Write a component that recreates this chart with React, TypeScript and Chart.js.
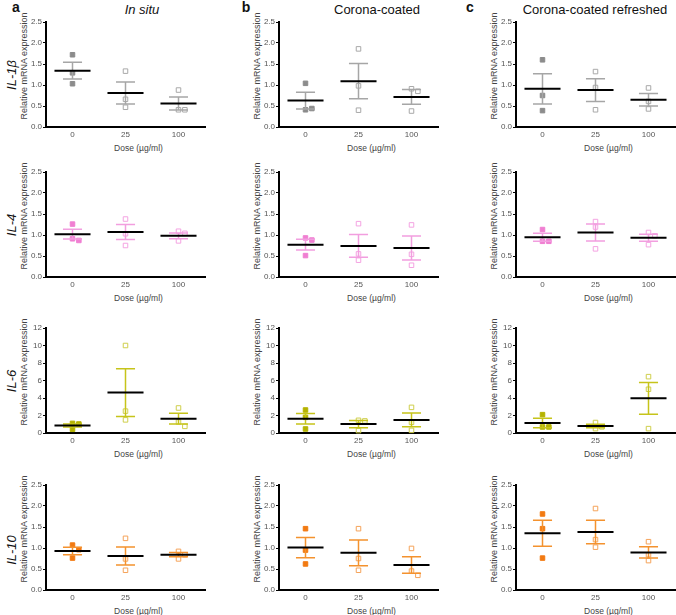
import React, { useEffect, useRef } from 'react';
import { Chart, registerables } from 'chart.js';

Chart.register(...registerables);

// ---------- data ----------
const doseLabels = ['0', '25', '100'];
const geneNames = ['IL-1β', 'IL-4', 'IL-6', 'IL-10'];
const conditionTitles = ['In situ', 'Corona-coated', 'Corona-coated refreshed'];
const panelLetters = ['a', 'b', 'c'];
const yAxisMax = [2.5, 2.5, 12, 2.5];
const yAxisStep = [0.5, 0.5, 2, 0.5];
const xAxisTitle = 'Dose (µg/ml)';
const yAxisTitle = 'Relative mRNA expression';

// IL-1β
const il1bInSituPoints = [[1.72, 1.29, 1.03], [1.33, 0.66, 0.47], [0.88, 0.41, 0.41]];
const il1bInSituMean = [1.34, 0.81, 0.56];
const il1bInSituSem = [0.2, 0.26, 0.155];
const il1bCoatedPoints = [[1.04, 0.41, 0.44], [1.86, 0.98, 0.4], [0.91, 0.85, 0.38]];
const il1bCoatedMean = [0.63, 1.09, 0.715];
const il1bCoatedSem = [0.2, 0.42, 0.175];
const il1bRefreshedPoints = [[1.6, 0.75, 0.39], [1.32, 0.94, 0.41], [0.93, 0.61, 0.43]];
const il1bRefreshedMean = [0.91, 0.88, 0.65];
const il1bRefreshedSem = [0.36, 0.27, 0.15];
// IL-4
const il4InSituPoints = [[1.26, 0.91, 0.87], [1.38, 1.03, 0.75], [1.09, 1.04, 0.86]];
const il4InSituMean = [1.02, 1.07, 0.98];
const il4InSituSem = [0.115, 0.18, 0.07];
const il4CoatedPoints = [[0.93, 0.88, 0.51], [1.27, 0.55, 0.4], [1.24, 0.54, 0.28]];
const il4CoatedMean = [0.77, 0.74, 0.69];
const il4CoatedSem = [0.13, 0.27, 0.285];
const il4RefreshedPoints = [[1.13, 0.85, 0.85], [1.32, 1.19, 0.67], [1.06, 0.98, 0.77]];
const il4RefreshedMean = [0.945, 1.06, 0.935];
const il4RefreshedSem = [0.095, 0.2, 0.085];
// IL-6
const il6InSituPoints = [[1.1, 1.03, 0.42], [10.0, 2.5, 1.5], [2.86, 1.26, 0.76]];
const il6InSituMean = [0.86, 4.62, 1.64];
const il6InSituSem = [0.16, 2.72, 0.625];
const il6CoatedPoints = [[2.63, 1.79, 0.46], [1.45, 1.38, 0.27], [2.93, 1.22, 0.3]];
const il6CoatedMean = [1.62, 1.02, 1.5];
const il6CoatedSem = [0.6, 0.42, 0.78];
const il6RefreshedPoints = [[2.1, 0.69, 0.69], [1.2, 0.7, 0.5], [6.44, 5.0, 0.5]];
const il6RefreshedMean = [1.14, 0.8, 3.96];
const il6RefreshedSem = [0.535, 0.19, 1.81];
// IL-10
const il10InSituPoints = [[1.07, 0.96, 0.76], [1.23, 0.74, 0.47], [0.92, 0.84, 0.74]];
const il10InSituMean = [0.93, 0.81, 0.84];
const il10InSituSem = [0.09, 0.215, 0.05];
const il10CoatedPoints = [[1.46, 0.95, 0.62], [1.46, 0.75, 0.47], [0.99, 0.45, 0.35]];
const il10CoatedMean = [1.01, 0.885, 0.595];
const il10CoatedSem = [0.24, 0.305, 0.195];
const il10RefreshedPoints = [[1.81, 1.46, 0.76], [1.94, 1.2, 1.02], [1.15, 0.84, 0.7]];
const il10RefreshedMean = [1.35, 1.38, 0.895];
const il10RefreshedSem = [0.31, 0.28, 0.135];

type PanelData = { points: number[][]; mean: number[]; sem: number[] };

const panels: PanelData[][] = [
  [
    { points: il1bInSituPoints, mean: il1bInSituMean, sem: il1bInSituSem },
    { points: il1bCoatedPoints, mean: il1bCoatedMean, sem: il1bCoatedSem },
    { points: il1bRefreshedPoints, mean: il1bRefreshedMean, sem: il1bRefreshedSem },
  ],
  [
    { points: il4InSituPoints, mean: il4InSituMean, sem: il4InSituSem },
    { points: il4CoatedPoints, mean: il4CoatedMean, sem: il4CoatedSem },
    { points: il4RefreshedPoints, mean: il4RefreshedMean, sem: il4RefreshedSem },
  ],
  [
    { points: il6InSituPoints, mean: il6InSituMean, sem: il6InSituSem },
    { points: il6CoatedPoints, mean: il6CoatedMean, sem: il6CoatedSem },
    { points: il6RefreshedPoints, mean: il6RefreshedMean, sem: il6RefreshedSem },
  ],
  [
    { points: il10InSituPoints, mean: il10InSituMean, sem: il10InSituSem },
    { points: il10CoatedPoints, mean: il10CoatedMean, sem: il10CoatedSem },
    { points: il10RefreshedPoints, mean: il10RefreshedMean, sem: il10RefreshedSem },
  ],
];

// ---------- styles / layout ----------
const FONT = '"Liberation Sans", Arial, Helvetica, sans-serif';
const GENE_FILL = ['#8c8c8c', '#f07fd2', '#b5b300', '#f27a12'];
const GENE_OPEN = ['#a9a9a9', '#f4a3e2', '#cfcf4c', '#f5a35a'];
const GENE_BAR = ['#a6a6a6', '#f29edf', '#c6c41a', '#f4922e'];

const COL_AXIS_X = [46, 279, 516];
const COL_AXIS_END = [205, 438, 675];
const ROW_TOP = [22, 172, 328, 485];
const PLOT_H = 105;
const Y_W = 17;
const X_H = 14;
const PAD_T = 6;
const PAD_R = 1;

function jitterPoints(groups: number[][], yMax: number) {
  const thr = yMax * 0.045;
  const out: { x: number; y: number; g: number }[] = [];
  groups.forEach((vals, g) => {
    const placed: { y: number; dx: number }[] = [];
    vals.forEach((v) => {
      const cands = [0, 0.12, -0.12, 0.24, -0.24];
      const dx =
        cands.find((c) => !placed.some((p) => Math.abs(p.y - v) < thr && Math.abs(p.dx - c) < 0.1)) ?? 0;
      placed.push({ y: v, dx });
      out.push({ x: g + dx, y: v, g });
    });
  });
  return out;
}

function Panel({ gene, col }: { gene: number; col: number }) {
  const ref = useRef<HTMLCanvasElement>(null);
  const axisX = COL_AXIS_X[col];
  const axisEnd = COL_AXIS_END[col];
  const width = Y_W + (axisEnd - axisX) + PAD_R;
  const height = PAD_T + PLOT_H + X_H;
  const left = axisX - Y_W;
  const top = ROW_TOP[gene] - PAD_T;

  useEffect(() => {
    const data = panels[gene][col];
    const yMax = yAxisMax[gene];
    const pts = jitterPoints(data.points, yMax);
    const meanLine: any[] = [];
    const semLine: any[] = [];
    data.mean.forEach((m, i) => {
      const s = data.sem[i];
      meanLine.push({ x: i - 0.34, y: m }, { x: i + 0.34, y: m }, { x: i + 0.5, y: null });
      semLine.push(
        { x: i, y: m - s },
        { x: i, y: m + s },
        { x: i, y: null },
        { x: i - 0.18, y: m + s },
        { x: i + 0.18, y: m + s },
        { x: i, y: null },
        { x: i - 0.18, y: m - s },
        { x: i + 0.18, y: m - s },
        { x: i, y: null }
      );
    });
    const tickFont = { family: FONT, size: 8 };
    const chart = new Chart(ref.current as HTMLCanvasElement, {
      type: 'line',
      data: {
        datasets: [
          {
            data: meanLine,
            borderColor: '#000',
            borderWidth: 2,
            pointRadius: 0,
            fill: false,
            clip: false,
            order: 0,
          },
          {
            data: semLine,
            borderColor: GENE_BAR[gene],
            borderWidth: 1.5,
            pointRadius: 0,
            fill: false,
            clip: false,
            order: 1,
          },
          {
            data: pts,
            showLine: false,
            pointStyle: 'rect',
            pointRadius: 3.2,
            pointBackgroundColor: pts.map((p) => (p.g === 0 ? GENE_FILL[gene] : 'rgba(255,255,255,0)')),
            pointBorderColor: pts.map((p) => (p.g === 0 ? GENE_FILL[gene] : GENE_OPEN[gene])),
            pointBorderWidth: 1,
            clip: false,
            order: 2,
          },
        ] as any,
      },
      options: {
        responsive: false,
        animation: false,
        events: [],
        layout: { padding: { top: PAD_T, right: PAD_R, left: 0, bottom: 0 }, autoPadding: false },
        plugins: { legend: { display: false }, tooltip: { enabled: false }, title: { display: false } },
        scales: {
          x: {
            type: 'linear',
            min: -0.5,
            max: 2.5,
            afterBuildTicks: (s: any) => {
              s.ticks = doseLabels.map((_, i) => ({ value: i }));
            },
            ticks: {
              autoSkip: false,
              maxRotation: 0,
              padding: 3,
              font: tickFont,
              color: '#555',
              callback: (v: any) => doseLabels[Math.round(Number(v))],
            },
            grid: { display: false, drawTicks: false },
            border: { display: true, color: '#000', width: 2 },
            afterFit: (s: any) => {
              s.height = X_H;
            },
          },
          y: {
            type: 'linear',
            min: 0,
            max: yMax,
            ticks: {
              stepSize: yAxisStep[gene],
              autoSkip: false,
              padding: 1,
              font: tickFont,
              color: '#555',
              callback: (v: any) => (yMax > 5 ? String(v) : Number(v).toFixed(1)),
            },
            grid: { drawOnChartArea: false, drawTicks: true, tickLength: 3, color: '#000', lineWidth: 1 },
            border: { display: true, color: '#000', width: 2 },
            afterFit: (s: any) => {
              s.width = Y_W;
            },
          },
        },
      } as any,
    });
    return () => chart.destroy();
  }, [gene, col]);

  return (
    <canvas
      ref={ref}
      width={width}
      height={height}
      style={{ position: 'absolute', left, top, width, height }}
    />
  );
}

function Label({
  x,
  y,
  text,
  size,
  rotate = false,
  italic = false,
  bold = false,
  color = '#111',
}: {
  x: number;
  y: number;
  text: string;
  size: number;
  rotate?: boolean;
  italic?: boolean;
  bold?: boolean;
  color?: string;
}) {
  return (
    <div
      style={{
        position: 'absolute',
        left: x,
        top: y,
        transform: `translate(-50%, -50%)${rotate ? ' rotate(-90deg)' : ''}`,
        fontSize: size,
        lineHeight: 1,
        whiteSpace: 'nowrap',
        fontStyle: italic ? 'italic' : 'normal',
        fontWeight: bold ? 'bold' : 'normal',
        color,
        fontFamily: FONT,
      }}
    >
      {text}
    </div>
  );
}

export default function App() {
  useEffect(() => {
    document.body.style.margin = '0';
  }, []);
  const letterX = [16, 246, 470];
  const titleX = [142, 377, 595];
  const geneY = [75, 225, 381, 550];
  const labels: React.ReactNode[] = [];
  const charts: React.ReactNode[] = [];
  geneNames.forEach((g, gi) => {
    conditionTitles.forEach((_, ci) => {
      charts.push(<Panel key={`p${gi}-${ci}`} gene={gi} col={ci} />);
      const axisX = COL_AXIS_X[ci];
      const axisEnd = COL_AXIS_END[ci];
      const top = ROW_TOP[gi];
      labels.push(
        <Label
          key={`yt${gi}-${ci}`}
          x={axisX - 22}
          y={top + PLOT_H / 2 - 9}
          text={yAxisTitle}
          size={9}
          rotate
          color="#444"
        />
      );
      labels.push(
        <Label
          key={`xt${gi}-${ci}`}
          x={axisX + (axisEnd - axisX) / 2 + 13}
          y={top + PLOT_H + 21}
          text={xAxisTitle}
          size={8.5}
          color="#444"
        />
      );
    });
    labels.push(<Label key={`g${gi}`} x={11} y={geneY[gi]} text={g} size={13} rotate italic />);
  });
  conditionTitles.forEach((t, ci) => {
    labels.push(<Label key={`l${ci}`} x={letterX[ci]} y={7} text={panelLetters[ci]} size={14} bold />);
    labels.push(<Label key={`t${ci}`} x={titleX[ci]} y={9} text={t} size={13} italic={ci === 0} />);
  });
  return (
    <div
      style={{
        position: 'absolute',
        left: 0,
        top: 0,
        width: 676,
        height: 615,
        overflow: 'hidden',
        background: '#fff',
      }}
    >
      {labels}
      {charts}
    </div>
  );
}
